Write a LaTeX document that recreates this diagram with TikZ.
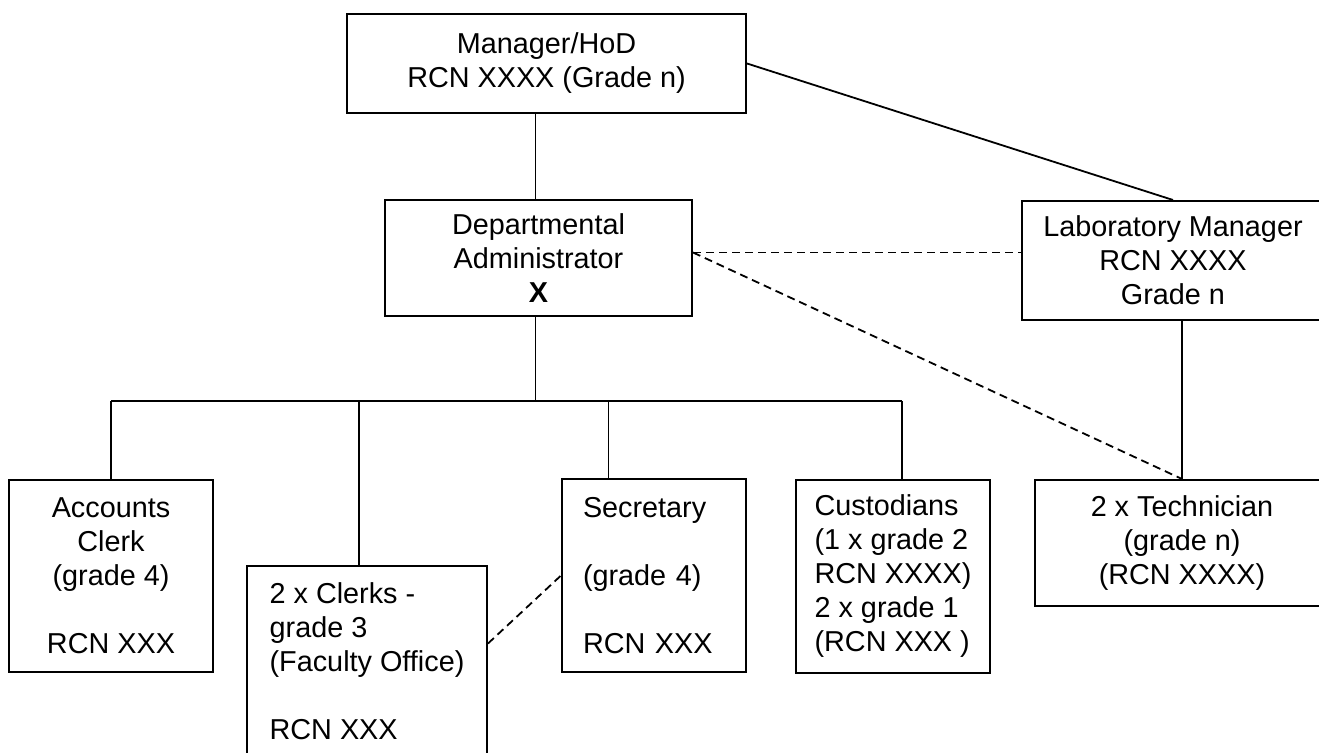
\documentclass[tikz,border=0pt]{standalone}
\usepackage{fontspec}
\setmainfont{Liberation Sans}
\usetikzlibrary{calc}

\begin{document}
\begin{tikzpicture}[x=0.5pt, y=-0.5pt,
				box/.style={draw, line width=1pt, inner sep=0pt, align=center, font=\fontsize{14.4}{17}\selectfont},
				lbox/.style={box, align=left},
				link/.style={line width=0.9pt},
				dashline/.style={link, dash pattern=on 4pt off 2.5pt}]
				\useasboundingbox (0,0) rectangle (1319,753);
				
				\node [box, minimum width=199.5pt, minimum height=49.5pt] (mgr) at (546.5,63.5) {Manager/HoD\\RCN XXXX (Grade n)};
				\node [box, minimum width=153.5pt, minimum height=58pt] (admin) at (538.5,258) {Departmental\\Administrator\\\textbf{X}};
				\node [box, minimum width=151pt, minimum height=59.5pt] (lab) at (1173,260.5) {Laboratory Manager\\RCN XXXX\\Grade n};
				\node [box, minimum width=147pt, minimum height=63pt] (tech) at (1182,543) {2 x Technician\\(grade n)\\(RCN XXXX)};
				\node [box, minimum width=102pt, minimum height=96pt] (acc) at (111,576) {Accounts\\Clerk\\(grade 4)\\[17pt]RCN XXX};
				\node [lbox, minimum width=120pt, minimum height=95.5pt] (clerks) at (367,661.5) {2 x Clerks -\\grade 3\\(Faculty Office)\\[17pt]RCN XXX};
				\node [lbox, text width=71pt, inner xsep=10.5pt, minimum height=96.5pt] (sec) at (654,575.5) {Secretary\\[17pt](grade 4)\\[17pt]RCN XXX};
				\node [lbox, minimum width=97pt, minimum height=96.5pt] (cust) at (893,576.5) {Custodians\\(1 x grade 2\\RCN XXXX)\\2 x grade 1\\(RCN XXX )};
				
				\coordinate (bus) at (0,401);
				\coordinate (c2) at ($(clerks.north west)!0.467!(clerks.north east)$);
				\coordinate (c3) at ($(sec.north west)!0.255!(sec.north east)$);
				\coordinate (c4) at ($(cust.north west)!0.546!(cust.north east)$);
				\coordinate (lw) at ([yshift=4pt]lab.west);
				\coordinate (ax) at ([xshift=-1.5pt]admin.south);
				
				\begin{scope}[link]
				\draw (mgr.south -| ax) -- (admin.north -| ax);
				\draw (mgr.east) -- (lab.north);
				\draw (ax) -- (ax |- bus);
				\draw (acc.north |- bus) -- (c4 |- bus);
				\foreach \n in {acc.north, c2, c3, c4}
				\draw (\n) -- (\n |- bus);
				\draw (tech.north |- lab.south) -- (tech.north);
				\end{scope}
				
				\begin{scope}[dashline]
				\draw (lw -| admin.east) -- (lw);
				\draw (lw -| admin.east) -- (tech.north);
				\draw ([yshift=9pt]clerks.east) -- (sec.west);
				\end{scope}
				\end{tikzpicture}
\end{document}
